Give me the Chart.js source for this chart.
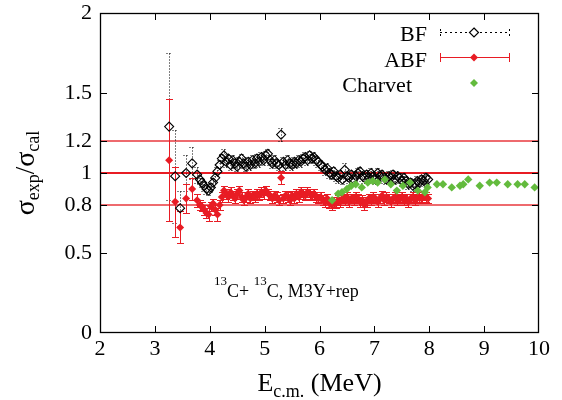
<!DOCTYPE html>
<html><head><meta charset="utf-8">
<script src="https://cdn.jsdelivr.net/npm/chart.js@4/dist/chart.umd.min.js"></script>
<style>html,body{margin:0;padding:0;background:#fff}</style>
</head><body>
<canvas id="c" width="562" height="400"></canvas>
<script>
// ---- data ----
const xTicks = [2,3,4,5,6,7,8,9,10];
const yTicks = [0,0.5,0.8,1,1.2,1.5,2];
const refLines = [0.8,1,1.2];

const bfX = [3.26,3.37,3.46,3.57,3.68,3.77,
3.82,3.86,3.90,3.94,3.98,4.02,4.06,4.10,4.14,4.18,
4.22,4.26,4.30,4.34,4.38,4.42,4.46,4.50,4.54,4.58,
4.62,4.66,4.70,4.74,4.78,4.82,4.86,4.90,4.94,4.98,
5.02,5.06,5.10,5.14,5.18,5.22,5.26,5.30,5.34,5.38,
5.42,5.46,5.50,5.54,5.58,5.62,5.66,5.70,5.74,5.78,
5.82,5.86,5.90,5.94,5.98,6.02,6.06,6.10,6.14,6.18,
6.22,6.26,6.30,6.34,6.38,6.42,6.46,6.50,6.54,6.58,
6.62,6.66,6.70,6.74,6.78,6.82,6.86,6.90,6.94,6.98,
7.02,7.06,7.10,7.14,7.18,7.22,7.26,7.30,7.34,7.38,
7.42,7.46,7.50,7.54,7.58,7.62,7.66,7.70,7.74,7.78,
7.82,7.86,7.90,7.94,7.98];
const bfY = [1.29,0.98,0.78,1.00,1.06,0.99,
0.96,0.94,0.92,0.90,0.89,0.91,0.94,0.97,1.01,1.05,
1.09,1.11,1.07,1.09,1.05,1.08,1.06,1.04,1.07,1.09,
1.06,1.04,1.07,1.05,1.08,1.06,1.09,1.07,1.10,1.08,
1.11,1.12,1.08,1.06,1.08,1.06,1.05,1.24,1.07,1.05,
1.08,1.06,1.05,1.07,1.06,1.08,1.07,1.09,1.10,1.08,
1.11,1.09,1.10,1.08,1.07,1.05,1.04,1.02,1.03,1.00,
0.99,1.01,0.98,0.97,0.99,0.96,1.02,0.98,0.97,0.99,
0.96,0.98,1.00,1.01,0.98,0.97,0.99,0.97,1.00,0.98,
0.96,1.00,0.98,0.99,0.97,0.96,0.98,0.97,0.99,0.96,
0.98,0.97,0.95,0.97,0.95,0.93,0.94,0.92,0.93,0.95,
0.94,0.96,0.95,0.97,0.96];
const bfErr = [0.46,0.29,0.11,0.11,0.10,0.05,
0.03,0.03,0.03,0.03,0.03,0.03,0.03,0.03,0.03,0.03,
0.03,0.04,0.03,0.03,0.03,0.03,0.03,0.03,0.03,0.03,
0.03,0.03,0.03,0.03,0.03,0.03,0.03,0.03,0.03,0.03,
0.03,0.03,0.03,0.03,0.03,0.03,0.03,0.04,0.03,0.03,
0.03,0.03,0.03,0.03,0.03,0.03,0.03,0.03,0.03,0.03,
0.03,0.03,0.03,0.03,0.03,0.03,0.03,0.03,0.03,0.03,
0.03,0.03,0.03,0.03,0.03,0.03,0.04,0.03,0.03,0.03,
0.03,0.03,0.03,0.03,0.03,0.03,0.03,0.03,0.03,0.03,
0.03,0.03,0.03,0.03,0.03,0.03,0.03,0.03,0.03,0.03,
0.03,0.03,0.03,0.03,0.03,0.03,0.03,0.03,0.03,0.03,
0.03,0.03,0.03,0.03,0.03];

const abfX = bfX.slice();
const abfY = [1.08,0.82,0.66,0.84,0.90,0.83,
0.80,0.79,0.77,0.75,0.74,0.79,0.81,0.77,0.74,0.80,
0.85,0.89,0.87,0.85,0.88,0.86,0.84,0.87,0.89,0.85,
0.83,0.85,0.87,0.84,0.86,0.85,0.87,0.86,0.88,0.87,
0.89,0.87,0.86,0.84,0.86,0.85,0.83,0.97,0.84,0.86,
0.85,0.83,0.86,0.84,0.87,0.85,0.88,0.87,0.86,0.88,
0.87,0.86,0.87,0.85,0.84,0.85,0.83,0.82,0.84,0.81,
0.80,0.82,0.81,0.83,0.82,0.84,0.83,0.85,0.82,0.84,
0.83,0.85,0.84,0.82,0.83,0.80,0.82,0.84,0.83,0.85,
0.84,0.82,0.84,0.86,0.83,0.85,0.84,0.82,0.84,0.85,
0.83,0.84,0.85,0.83,0.84,0.82,0.84,0.85,0.83,0.84,
0.85,0.84,0.86,0.85,0.84];
const abfErr = [0.38,0.22,0.10,0.09,0.07,0.04,
0.03,0.03,0.03,0.03,0.04,0.03,0.03,0.03,0.04,0.03,
0.03,0.03,0.03,0.03,0.03,0.03,0.03,0.03,0.03,0.03,
0.03,0.03,0.03,0.03,0.03,0.03,0.03,0.03,0.03,0.03,
0.03,0.03,0.03,0.03,0.03,0.03,0.03,0.04,0.03,0.03,
0.03,0.03,0.03,0.03,0.03,0.03,0.03,0.03,0.03,0.03,
0.03,0.03,0.03,0.03,0.03,0.03,0.03,0.03,0.03,0.03,
0.03,0.03,0.03,0.03,0.03,0.03,0.03,0.03,0.03,0.03,
0.03,0.03,0.03,0.03,0.03,0.03,0.03,0.03,0.03,0.03,
0.03,0.03,0.03,0.03,0.03,0.03,0.03,0.03,0.03,0.03,
0.03,0.03,0.03,0.03,0.03,0.03,0.03,0.03,0.03,0.03,
0.03,0.03,0.03,0.03,0.03];

const chX = [6.23,6.34,6.41,6.50,6.58,6.66,6.77,6.88,6.97,7.06,7.19,7.30,7.41,7.52,7.65,7.79,7.92,7.97,
8.14,8.25,8.41,8.56,8.62,8.71,8.92,9.10,9.23,9.43,9.61,9.74,9.92];
const chY = [0.83,0.87,0.88,0.90,0.92,0.93,0.91,0.94,0.95,0.94,0.96,0.93,0.89,0.92,0.94,0.89,0.88,0.91,
0.93,0.93,0.91,0.92,0.93,0.96,0.92,0.94,0.94,0.93,0.93,0.93,0.91];

const RED = '#e81c24';
const GREEN = '#63bb3d';
const SERIF = '"Liberation Serif", "Times New Roman", serif';

const pts = (xs, ys) => xs.map((v,i)=>({x:v, y:ys[i]}));

function drawErr(ctx, xs, ys, X, Y, E, color, dash, cap){
  ctx.save();
  ctx.strokeStyle = color; ctx.lineWidth = 1; ctx.setLineDash(dash);
  for (let i=0;i<X.length;i++){
    const px = Math.round(xs.getPixelForValue(X[i]))+0.5;
    const p1 = Math.round(ys.getPixelForValue(Y[i]+E[i]))+0.5;
    const p2 = Math.round(ys.getPixelForValue(Y[i]-E[i]))+0.5;
    ctx.beginPath();
    ctx.moveTo(px,p1); ctx.lineTo(px,p2);
    ctx.moveTo(px-cap,p1); ctx.lineTo(px+cap,p1);
    ctx.moveTo(px-cap,p2); ctx.lineTo(px+cap,p2);
    ctx.stroke();
  }
  ctx.restore();
}

function diamond(ctx, x, y, r, fill, stroke){
  ctx.beginPath();
  ctx.moveTo(x, y-r); ctx.lineTo(x+r, y); ctx.lineTo(x, y+r); ctx.lineTo(x-r, y); ctx.closePath();
  if (fill){ ctx.fillStyle = fill; ctx.fill(); }
  if (stroke){ ctx.strokeStyle = stroke; ctx.lineWidth = 1.2; ctx.stroke(); }
}

function drawParts(ctx, parts, x){
  let cx = x;
  parts.forEach(p=>{ ctx.font = p[1]; ctx.fillText(p[0], cx, p[2]); cx += ctx.measureText(p[0]).width; });
}
function partsWidth(ctx, parts){
  let w=0; parts.forEach(p=>{ ctx.font=p[1]; w+=ctx.measureText(p[0]).width; }); return w;
}

const deco = {
  id:'deco',
  beforeDatasetsDraw(chart){
    const {ctx, chartArea:a, scales:{x, y}} = chart;
    ctx.save();
    refLines.forEach(v=>{
      const py = y.getPixelForValue(v);
      ctx.beginPath();
      ctx.strokeStyle = v===1 ? RED : '#e8383e';
      ctx.lineWidth = v===1 ? 2 : 1.3;
      ctx.moveTo(a.left, py); ctx.lineTo(a.right, py); ctx.stroke();
    });
    ctx.beginPath(); ctx.rect(a.left, a.top, a.right-a.left, a.bottom-a.top); ctx.clip();
    drawErr(ctx, x, y, bfX, bfY, bfErr, '#000', [1,2], 3);
    drawErr(ctx, x, y, abfX, abfY, abfErr, RED, [], 3.5);
    ctx.restore();
  },
  afterDraw(chart){
    const {ctx, chartArea:a, scales:{x, y}} = chart;
    ctx.save();
    ctx.strokeStyle = '#000'; ctx.lineWidth = 1.3; ctx.setLineDash([]);
    ctx.strokeRect(a.left+0.5, a.top+0.5, a.right-a.left-1, a.bottom-a.top-1);
    ctx.lineWidth = 1;
    ctx.beginPath();
    xTicks.slice(1,-1).forEach(v=>{
      const px = Math.round(x.getPixelForValue(v))+0.5;
      ctx.moveTo(px, a.bottom); ctx.lineTo(px, a.bottom-7);
      ctx.moveTo(px, a.top); ctx.lineTo(px, a.top+7);
    });
    yTicks.slice(1,-1).forEach(v=>{
      const py = Math.round(y.getPixelForValue(v))+0.5;
      ctx.moveTo(a.left, py); ctx.lineTo(a.left+7, py);
      ctx.moveTo(a.right, py); ctx.lineTo(a.right-7, py);
    });
    ctx.stroke();

    ctx.fillStyle = '#000';
    ctx.textBaseline = 'alphabetic';
    ctx.textAlign = 'left';
    // x title
    const xp = [['E','26px '+SERIF,0],['c.m.','18px '+SERIF,6],[' (MeV)','26px '+SERIF,0]];
    const xw = partsWidth(ctx,xp);
    ctx.save(); ctx.translate((a.left+a.right)/2 - xw/2, 391);
    drawParts(ctx, xp, 0); ctx.restore();
    // y title
    const yp = [['\u03C3','28px '+SERIF,0],['exp','18px '+SERIF,5],['/','27px '+SERIF,0],['\u03C3','28px '+SERIF,0],['cal','18px '+SERIF,5]];
    const yw = partsWidth(ctx,yp);
    ctx.save(); ctx.translate(34, 173); ctx.rotate(-Math.PI/2);
    drawParts(ctx, yp, -yw/2); ctx.restore();
    // annotation
    const ap = [['13','13px '+SERIF,-12],['C+ ','18px '+SERIF,0],['13','13px '+SERIF,-12],['C, M3Y+rep','18px '+SERIF,0]];
    ctx.save(); ctx.translate(214, 297); drawParts(ctx, ap, 0); ctx.restore();

    // legend
    ctx.font = '22px '+SERIF; ctx.textAlign = 'right';
    ctx.fillText('BF', 427, 41);
    ctx.fillText('ABF', 427, 67);
    ctx.fillText('Charvet', 412, 92);
    ctx.strokeStyle = '#000'; ctx.lineWidth = 1; ctx.setLineDash([2,3]);
    ctx.beginPath(); ctx.moveTo(440, 32.5); ctx.lineTo(509, 32.5);
    ctx.moveTo(440.5, 29); ctx.lineTo(440.5, 36); ctx.moveTo(509.5, 29); ctx.lineTo(509.5, 36);
    ctx.stroke(); ctx.setLineDash([]);
    diamond(ctx, 474, 32.5, 4.5, '#fff', '#000');
    ctx.strokeStyle = RED; ctx.lineWidth = 1;
    ctx.beginPath(); ctx.moveTo(440, 57.5); ctx.lineTo(509, 57.5);
    ctx.moveTo(440.5, 53); ctx.lineTo(440.5, 62); ctx.moveTo(509.5, 53); ctx.lineTo(509.5, 62);
    ctx.stroke();
    diamond(ctx, 474, 57.5, 4, RED, null);
    diamond(ctx, 474, 83, 4, GREEN, null);
    ctx.restore();
  }
};

new Chart(document.getElementById('c'), {
  type:'scatter',
  data:{ datasets:[
    { label:'BF', data:pts(bfX,bfY), order:3, pointStyle:'rectRot', pointRadius:4.5,
      borderColor:'#000', backgroundColor:'rgba(0,0,0,0)', borderWidth:1.1 },
    { label:'ABF', data:pts(abfX,abfY), order:2, pointStyle:'rectRot', pointRadius:4,
      borderColor:RED, backgroundColor:RED, borderWidth:0 },
    { label:'Charvet', data:pts(chX,chY), order:1, pointStyle:'rectRot', pointRadius:4.2,
      borderColor:GREEN, backgroundColor:GREEN, borderWidth:0 }
  ]},
  options:{
    responsive:false, animation:false, devicePixelRatio:1,
    layout:{padding:{left:0,right:23,top:13,bottom:0}},
    plugins:{legend:{display:false}, tooltip:{enabled:false}},
    scales:{
      x:{ type:'linear', min:2, max:10,
        grid:{display:false, drawTicks:false}, border:{display:false},
        ticks:{ font:{family:SERIF, size:22, lineHeight:1}, color:'#000', padding:5, maxRotation:0, autoSkip:false,
          callback:v=>String(v) },
        afterBuildTicks:s=>{ s.ticks = xTicks.map(v=>({value:v})); },
        afterFit:s=>{ s.height = 67; s.paddingLeft = 0; s.paddingRight = 0; } },
      y:{ type:'linear', min:0, max:2,
        grid:{display:false, drawTicks:false}, border:{display:false},
        ticks:{ font:{family:SERIF, size:22, lineHeight:1}, color:'#000', padding:8, autoSkip:false,
          callback:v=>String(v) },
        afterBuildTicks:s=>{ s.ticks = yTicks.map(v=>({value:v})); },
        afterFit:s=>{ s.width = 100; s.paddingTop = 0; s.paddingBottom = 0; } }
    }
  },
  plugins:[deco]
});
</script>
</body></html>
